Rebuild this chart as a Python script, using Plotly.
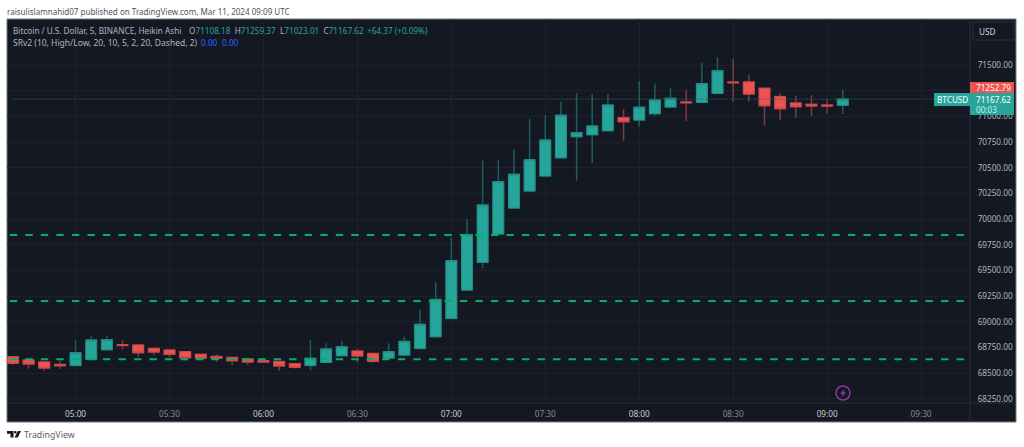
import pandas as pd
import plotly.graph_objects as go

# 5 min Heikin Ashi candles
times = pd.date_range("2024-03-11 04:40", "2024-03-11 09:05", freq="5min").strftime("%Y-%m-%d %H:%M").tolist()
opens = [68659, 68626, 68607, 68584, 68574, 68633, 68727, 68776, 68772, 68740, 68724, 68708, 68682, 68662,
         68652, 68636, 68620, 68613, 68591, 68574, 68604, 68669, 68714, 68691, 68646, 68675, 68740, 68854,
         69032, 69308, 69578, 69854, 70107, 70273, 70419, 70597, 70802, 70821, 70860, 70987, 70964, 71026,
         71091, 71140, 71136, 71224, 71334, 71334, 71273, 71192, 71130, 71117, 71110, 71108.18]
highs = [68665, 68633, 68613, 68620, 68821, 68863, 68863, 68821, 68772, 68740, 68724, 68708, 68682, 68682,
         68662, 68636, 68643, 68613, 68591, 68821, 68789, 68815, 68740, 68691, 68789, 68854, 69114, 69383,
         69821, 70000, 70572, 70578, 70679, 70980, 71013, 71143, 71227, 71217, 71217, 71071, 71344, 71321,
         71282, 71256, 71519, 71575, 71558, 71403, 71273, 71224, 71198, 71208, 71169, 71259.37]
lows = [68578, 68539, 68522, 68539, 68574, 68626, 68727, 68730, 68659, 68672, 68652, 68620, 68626, 68610,
        68581, 68581, 68597, 68522, 68545, 68529, 68604, 68669, 68604, 68601, 68646, 68675, 68740, 68854,
        69032, 69308, 69520, 69854, 70107, 70273, 70419, 70597, 70373, 70549, 70860, 70763, 70899, 71003,
        71091, 70954, 71136, 71224, 71143, 71143, 70909, 70964, 70987, 71003, 71026, 71023.01]
closes = [68594, 68587, 68548, 68571, 68698, 68821, 68824, 68769, 68698, 68704, 68682, 68649, 68643, 68643,
          68620, 68607, 68607, 68568, 68555, 68643, 68734, 68756, 68666, 68614, 68708, 68808, 68974, 69217,
          69594, 69847, 70136, 70364, 70435, 70578, 70769, 71010, 70841, 70906, 71110, 70948, 71088, 71159,
          71175, 71133, 71318, 71445, 71328, 71217, 71104, 71075, 71094, 71101, 71101, 71167.62]

sr_levels = [69844, 69201, 68633]
sr_start = "2024-03-11 04:39"
sr_end = "2024-03-11 09:44"

price_ticks = list(range(68250, 71750, 250))
# 71250 sits under the red last-value label in the picture
price_labels = ["" if p == 71250 else f"{p:.2f}" for p in price_ticks]
time_ticks = ["2024-03-11 05:00", "2024-03-11 05:30", "2024-03-11 06:00", "2024-03-11 06:30", "2024-03-11 07:00",
              "2024-03-11 07:30", "2024-03-11 08:00", "2024-03-11 08:30", "2024-03-11 09:00", "2024-03-11 09:30"]
time_labels = ["05:00", "05:30", "06:00", "06:30", "07:00", "07:30", "08:00", "08:30", "09:00", "09:30"]

BG = "#141823"
GRID = "#1c212c"
TEAL = "#26a69a"
RED = "#ef5350"
FONT = "Noto Sans"

# plot area in pixels
L, R, T, B = 7, 970, 19, 403


def px(x):
    return (x - L) / (R - L)


def py(y):
    return (B - y) / (B - T)


def note(x, y, text, size=8.2, color="#b2b5be", anchor="left"):
    return dict(x=px(x), y=py(y), xref="paper", yref="paper", text=text, showarrow=False, xanchor=anchor,
                yanchor="middle", align="left", font=dict(family=FONT, size=size, color=color),
                borderpad=0, borderwidth=0)


def box(x0, y0, x1, y1, fill, line=None, layer="above", width=1):
    return dict(type="rect", xref="paper", yref="paper", x0=px(x0), x1=px(x1), y0=py(y0), y1=py(y1),
                fillcolor=fill, line=dict(color=line, width=width if line else 0), layer=layer)


def poly(points, fill):
    path = "M " + " L ".join(f"{px(a):.5f},{py(b):.5f}" for a, b in points) + " Z"
    return dict(type="path", xref="paper", yref="paper", path=path, fillcolor=fill, line=dict(width=0))


def time_text(label):
    # whole hours are brighter than half hours
    color = "#c8cbd3" if label.endswith(":00") else "#868993"
    return f'<span style="color:{color}">{label}</span>'


fig = go.Figure()

for level in sr_levels:
    fig.add_trace(go.Scatter(x=[sr_start, sr_end], y=[level, level], mode="lines", hoverinfo="skip",
                             line=dict(color="#00b16a", width=2, dash="7.4px,8.12px")))

fig.add_trace(go.Scatter(x=[times[0], "2024-03-11 09:46"], y=[closes[-1], closes[-1]], mode="lines",
                         hoverinfo="skip", line=dict(color="#2a5f5e", width=1, dash="1px,1px")))

# wicks are dimmer than the bodies, so two traces
fig.add_trace(go.Candlestick(x=times, open=opens, high=highs, low=lows, close=closes,
                             increasing=dict(line=dict(color="#1f5c5c", width=1.5), fillcolor="#1f5c5c"),
                             decreasing=dict(line=dict(color="#7c3b42", width=1.5), fillcolor="#7c3b42")))
fig.add_trace(go.Candlestick(x=times, open=opens, close=closes,
                             high=[max(o, c) for o, c in zip(opens, closes)],
                             low=[min(o, c) for o, c in zip(opens, closes)],
                             increasing=dict(line=dict(color="#22908a", width=1), fillcolor=TEAL),
                             decreasing=dict(line=dict(color="#d24b4c", width=1), fillcolor=RED)))

shapes = [
    box(7, 19, 1016, 422, BG, "#73767f", layer="below"),
    dict(type="line", xref="paper", yref="paper", x0=px(R), x1=px(R), y0=py(19), y1=py(422),
         line=dict(color="#2a2e39", width=1)),
    dict(type="line", xref="paper", yref="paper", x0=px(7), x1=px(1016), y0=py(B), y1=py(B),
         line=dict(color="#2a2e39", width=1)),
    box(973, 22, 1014, 40, BG, "#2a2e39"),
    box(970, 82, 1014, 93, RED),
    box(970, 93, 1014, 115, TEAL),
    box(934, 93, 970, 106, TEAL),
    dict(type="circle", xref="paper", yref="paper", x0=px(836), x1=px(850), y0=py(386), y1=py(400),
         line=dict(color="#8e3a9d", width=1.5), fillcolor=BG),
    poly([(844.5, 389), (840, 393.8), (842.6, 393.8), (841.5, 397.2), (846, 392.3), (843.4, 392.3)], "#8e3a9d"),
    # logo
    poly([(7, 431), (13.5, 431), (13.5, 437.5), (10.5, 437.5), (10.5, 433.8), (7, 433.8)], "#131722"),
    poly([(17.8, 431), (21, 431), (17.8, 437.5), (14.6, 437.5)], "#131722"),
    dict(type="circle", xref="paper", yref="paper", x0=px(14), x1=px(16.6), y0=py(431), y1=py(433.6),
         fillcolor="#131722", line=dict(width=0)),
]

annotations = [
    note(7, 11, "raisulislamnahid07 published on TradingView.com, Mar 11, 2024 09:09 UTC", size=8.05, color="#50535e"),
    note(13, 30, "Bitcoin / U.S. Dollar, 5, BINANCE, Heikin Ashi"),
    note(189, 30, f'O<span style="color:{TEAL}">71108.18</span>  H<span style="color:{TEAL}">71259.37</span>  '
                  f'L<span style="color:{TEAL}">71023.01</span>  C<span style="color:{TEAL}">71167.62</span>'),
    note(367, 30, "+64.37 (+0.09%)", color=TEAL),
    note(13, 42, "SRv2 (10, High/Low, 20, 10, 5, 2, 20, Dashed, 2)", size=8.5),
    note(201, 42, "0.00", color="#2962ff"),
    note(222, 42, "0.00", color="#2962ff"),
    note(979, 31, "USD", color="#d1d4dc"),
    note(976, 87.5, "71252.79", color="#ffffff"),
    note(976, 99.5, "71167.62", color="#ffffff"),
    note(976, 109.5, "00:03", color="#c8ebe7"),
    note(937, 99.5, "BTCUSD", color="#ffffff"),
    note(24, 435, "TradingView", size=8.8, color="#5d606b"),
]

fig.update_layout(
    width=1024, height=447, autosize=False,
    margin=dict(l=L, r=1024 - R, t=T, b=447 - B, pad=0),
    paper_bgcolor="#ffffff", plot_bgcolor=BG,
    showlegend=False, boxmode="overlay", boxgap=0.02,
    font=dict(family=FONT, size=8.2, color="#b2b5be"),
    shapes=shapes, annotations=annotations,
)
fig.update_xaxes(type="date", range=["2024-03-11 04:38:06", "2024-03-11 09:45:38"], rangeslider_visible=False,
                 tickmode="array", tickvals=time_ticks, ticktext=[time_text(t) for t in time_labels],
                 ticks="outside", ticklen=3, tickcolor="rgba(0,0,0,0)", gridcolor=GRID, gridwidth=1,
                 showline=False, zeroline=False)
fig.update_yaxes(side="right", range=[68208, 71948], tickmode="array", tickvals=price_ticks,
                 ticktext=price_labels, ticks="outside", ticklen=5, tickcolor="rgba(0,0,0,0)", gridcolor=GRID,
                 gridwidth=1, showline=False, zeroline=False)

# browser default body margin would shift the whole figure by 8px
fig.write_html("out.html", config={"displayModeBar": False}, post_script="document.body.style.margin='0';")
